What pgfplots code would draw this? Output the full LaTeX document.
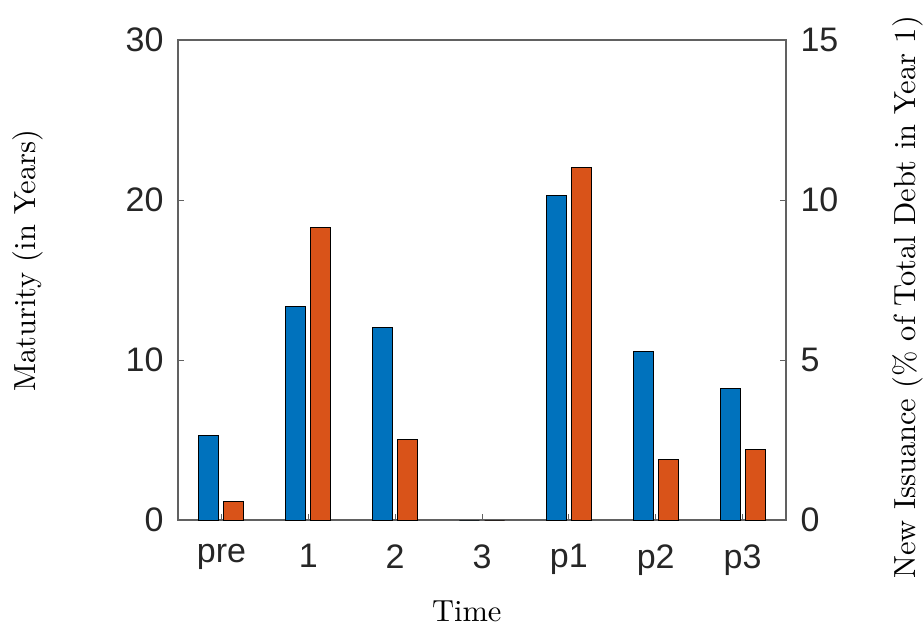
\documentclass[border=0pt]{standalone}
\usepackage{pgfplots}
\pgfplotsset{compat=1.18}
\usepackage{pgfplotstable}
\usepackage{fontspec}
\newfontfamily\arial{Liberation Sans}
\newfontfamily\cmten{lmroman10-regular.otf}
\definecolor{mblue}{rgb}{0,0.447,0.741}
\definecolor{morange}{rgb}{0.85,0.325,0.098}
\definecolor{axgray}{rgb}{0.15,0.15,0.15}
\definecolor{linegray}{rgb}{0.38,0.38,0.38}

\pgfplotstableread{
x mat
0 5.29
1 13.36
2 12.06
3 0
4 20.27
5 10.54
6 8.25
}\matdata
\pgfplotstableread{
x iss
0 0.58
1 9.13
2 2.51
3 0
4 11.03
5 1.90
6 2.21
}\issdata

\begin{document}
\begin{tikzpicture}
\pgfplotsset{
 common/.style={scale only axis, width=608pt, height=480pt,
   xmin=-0.5, xmax=6.5, ymin=0, at={(0,0)}, anchor=south west,
   tick align=inside, major tick length=6pt,
   tick style={linegray, line width=0.8pt},
   axis line style={linegray, line width=1.1pt},
   tick label style={font=\arial\fontsize{34}{34}\selectfont, text=axgray},
   /pgf/number format/assume math mode=true,
   label style={font=\cmten\fontsize{30.5}{30.5}\selectfont}}
}
\begin{axis}[common, ymax=30, ytick={0,10,20,30},
  xtick={0,1,2,3,4,5,6}, xticklabels={pre,1,2,3,p1,p2,p3},
  xtick pos=bottom, ytick pos=left,
  xticklabel style={yshift=-21pt},
  yticklabel style={xshift=-11pt},
  xlabel={Time},
  xlabel style={at={(axis description cs:0.475,-0.19)}, anchor=center},
  ylabel={Maturity (in Years)},
  ylabel style={at={(axis description cs:-0.2475,0.54)}, anchor=center}]
\addplot[ybar, bar width=20pt, bar shift=-12.5pt, fill=mblue, draw=black, line width=0.9pt] table[x=x,y=mat]{\matdata};
\end{axis}
\begin{axis}[common, ymax=15, ytick={0,5,10,15},
  axis y line*=right, axis x line=none,
  yticklabel style={xshift=11pt},
  ylabel={New Issuance (\% of Total Debt in Year 1)},
  ylabel style={at={(axis description cs:1.1998,0.464)}, anchor=center, rotate=0}]
\addplot[ybar, bar width=20pt, bar shift=12.5pt, fill=morange, draw=black, line width=0.9pt] table[x=x,y=iss]{\issdata};
\end{axis}
\pgfresetboundingbox
\path[use as bounding box] (-178pt,-104pt) rectangle (746pt,520pt);
\end{tikzpicture}
\end{document}
